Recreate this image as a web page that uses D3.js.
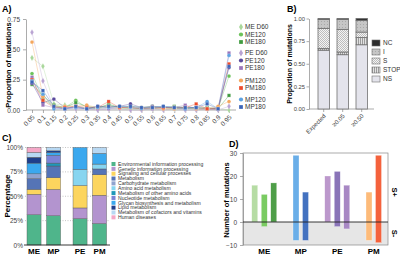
<!DOCTYPE html>
<html>
<head>
<meta charset="utf-8">
<script src="https://cdn.jsdelivr.net/npm/d3@7"></script>
<style>
  body { margin: 0; background: #fff; }
  svg { font-family: "Liberation Sans", Arial, sans-serif; }
</style>
</head>
<body>
<svg id="chart" width="400" height="259"></svg>
<script>
// ---------- data: panel A (site frequency spectrum) ----------
const freqBins = ["0.05","0.1","0.15","0.2","0.25","0.3","0.35","0.4","0.45","0.5",
                  "0.55","0.6","0.65","0.7","0.75","0.8","0.85","0.9","0.95"];
const seriesNames = ["ME D60","ME120","ME180","PE D60","PE120","PE180","PM120","PM180","MP120","MP180"];
const meD60 = [0.43,0.36,0.05,0.04,0.03,0.02,0.01,0.02,0.01,0.01,0.01,0.01,0.01,0.01,0.01,0.01,0.01,0.01,0.00];
const me120 = [0.30,0.09,0.03,0.02,0.08,0.02,0.01,0.05,0.02,0.01,0.01,0.01,0.02,0.01,0.02,0.01,0.01,0.01,0.28];
const me180 = [0.21,0.12,0.04,0.02,0.06,0.03,0.02,0.04,0.02,0.03,0.02,0.03,0.02,0.03,0.02,0.02,0.02,0.01,0.12];
const peD60 = [0.64,0.24,0.02,0.01,0.01,0.01,0.00,0.01,0.01,0.00,0.00,0.01,0.00,0.01,0.00,0.00,0.01,0.00,0.03];
const pe120 = [0.22,0.06,0.09,0.02,0.02,0.01,0.03,0.02,0.03,0.05,0.02,0.03,0.02,0.02,0.01,0.02,0.01,0.01,0.35];
const pe180 = [0.27,0.04,0.02,0.01,0.02,0.01,0.01,0.01,0.02,0.02,0.01,0.01,0.02,0.02,0.04,0.01,0.01,0.01,0.47];
const pm120 = [0.56,0.11,0.03,0.03,0.03,0.04,0.02,0.03,0.02,0.02,0.01,0.02,0.01,0.01,0.02,0.01,0.01,0.03,0.07];
const pm180 = [0.25,0.08,0.02,0.02,0.03,0.02,0.02,0.07,0.02,0.02,0.01,0.02,0.02,0.02,0.02,0.05,0.01,0.01,0.38];
const mp120 = [0.24,0.13,0.01,0.01,0.02,0.01,0.02,0.02,0.03,0.02,0.01,0.02,0.03,0.02,0.01,0.02,0.07,0.01,0.45];
const mp180 = [0.23,0.16,0.03,0.01,0.03,0.01,0.03,0.03,0.03,0.03,0.02,0.02,0.03,0.02,0.02,0.02,0.05,0.01,0.36];

// ---------- data: panel B (mutation classes) ----------
const classCats = ["Expected","≥0.05","≥0.50"];
const nsVals   = [0.65, 0.60, 0.71];
const stopVals = [0.02, 0.03, 0.08];
const sVals    = [0.22, 0.25, 0.06];
const iVals    = [0.10, 0.11, 0.13];
const ncVals   = [0.01, 0.01, 0.02];

// ---------- data: panel C (functional categories, %) ----------
const popCats = ["ME","MP","PE","PM"];
const pathways = ["Environmental information processing","Genetic information processing",
  "Signaling and cellular processes","Metabolism","Carbohydrate metabolism","Amino acid metabolism",
  "Metabolism of other amino acids","Nucleotide metabolism","Glycan biosynthesis and metabolism",
  "Lipid metabolism","Metabolism of cofactors and vitamins","Human diseases"];
const envPct   = [31, 30, 27, 22];
const genPct   = [21, 27, 11, 29];
const sigPct   = [5, 12, 23, 21];
const metPct   = [11, 12, 0, 6];
const carbPct  = [5, 0, 0, 0];
const aminoPct = [0, 0, 16.5, 5];
const otherPct = [0, 3, 0, 0];
const nuclPct  = [0, 8, 0, 0];
const glyPct   = [11, 3, 22.5, 11];
const lipPct   = [6, 1.6, 0, 0];
const cofPct   = [5, 3.4, 0, 6];
const humPct   = [5, 0, 0, 0];

// ---------- data: panel D (number of mutations, S+ / S-) ----------
const dGroups = ["ME","MP","PE","PM"];
const dSamples = [["ME D60","ME120","ME180"],["MP120","MP180"],["PE D60","PE120","PE180"],["PM120","PM180"]];
const sPlus  = [[16,12,17],[29,13],[20,22,16],[13,29]];
const sMinus = [[0,2,0],[8,8],[0,2,3],[8,9]];

// ---------- styles ----------
const seriesColor = {"ME D60":"#a9d79b","ME120":"#6cc25a","ME180":"#3f9a3f","PE D60":"#b9a3d2",
  "PE120":"#5a4a9c","PE180":"#9b74bb","PM120":"#f4a65c","PM180":"#ee4b2b","MP120":"#5da2e2","MP180":"#3b64b8"};
const seriesShape = n => n.includes("D60") ? d3.symbolDiamond : n.endsWith("120") ? d3.symbolCircle : d3.symbolSquare;
const pathColors = ["#4fb58b","#b394cf","#fcd55e","#5574b6","#8fa3cf","#87d5f0","#1f98b9","#7c83d6",
  "#3ba8ee","#1f3f8c","#b7d8f3","#f4a7c7"];
const sampleColor = {"ME D60":"#b6dca4","ME120":"#7acb62","ME180":"#4e9e48","MP120":"#6aaee8","MP180":"#4472c0",
  "PE D60":"#bc98cc","PE120":"#8a74b8","PE180":"#a888c4","PM120":"#fdbb7a","PM180":"#f4623c"};

const svg = d3.select("#chart");
const defs = svg.append("defs");

function panelLabel(t, x, y) {
  svg.append("text").attr("x", x).attr("y", y).attr("font-size", 9).attr("font-weight", "bold").text(t);
}
function styleAxis(g, fs) {
  g.selectAll("path,line").attr("stroke", "#888").attr("stroke-width", 0.7);
  g.selectAll("text").attr("fill", "#444").attr("font-size", fs || 6.5);
}

// ================= Panel A =================
panelLabel("A)", 2, 12);
const seriesData = [meD60, me120, me180, peD60, pe120, pe180, pm120, pm180, mp120, mp180];
const xA = d3.scalePoint().domain(freqBins).range([32, 229]);
const yA = d3.scaleLinear().domain([0, 0.75]).range([110, 19]);

svg.append("g").attr("transform", "translate(26,0)")
  .call(d3.axisLeft(yA).tickValues([0, 0.25, 0.5, 0.75]).tickFormat(d3.format(".2f")).tickSize(3).tickSizeOuter(0))
  .call(styleAxis);
const gxA = svg.append("g").attr("transform", "translate(0,110)")
  .call(d3.axisBottom(xA).tickSize(3).tickSizeOuter(0))
  .call(styleAxis);
gxA.select(".domain").remove();
gxA.append("line").attr("x1", 26).attr("x2", 236).attr("stroke", "#888").attr("stroke-width", 0.7);
gxA.selectAll(".tick text").attr("y", 0).attr("dy", "0.35em").attr("text-anchor", "end")
  .attr("transform", "translate(1,6) rotate(-45)");

svg.append("text").attr("transform", "translate(11,65) rotate(-90)").attr("text-anchor", "middle")
  .attr("font-size", 7.5).attr("font-weight", "bold").text("Proportion of mutations");

const lineA = d3.line().x((d, i) => xA(freqBins[i])).y(d => yA(d));
seriesNames.forEach((n, k) => {
  svg.append("path").datum(seriesData[k]).attr("d", lineA).attr("fill", "none")
    .attr("stroke", seriesColor[n]).attr("stroke-opacity", 0.45).attr("stroke-width", 0.8);
});
seriesNames.forEach((n, k) => {
  svg.append("g").selectAll("path").data(seriesData[k]).join("path")
    .attr("transform", (d, i) => `translate(${xA(freqBins[i])},${yA(d)})`)
    .attr("d", d3.symbol().type(seriesShape(n)).size(11))
    .attr("fill", seriesColor[n]).attr("stroke", "#fff").attr("stroke-width", 0.2);
});

// legend A
const legAy = [27, 34.5, 42, 53, 60.5, 68, 80.5, 88, 99.5, 107];
seriesNames.forEach((n, k) => {
  svg.append("path").attr("transform", `translate(241,${legAy[k]})`)
    .attr("d", d3.symbol().type(seriesShape(n)).size(14)).attr("fill", seriesColor[n]);
  svg.append("text").attr("x", 245).attr("y", legAy[k]).attr("dy", "0.35em")
    .attr("font-size", 6.5).attr("fill", "#333").text(n);
});

// ================= Panel B =================
panelLabel("B)", 287, 12);
// patterns
const pStop = defs.append("pattern").attr("id", "pStop").attr("width", 2).attr("height", 2).attr("patternUnits", "userSpaceOnUse");
pStop.append("rect").attr("width", 2).attr("height", 2).attr("fill", "#e2e2e2");
pStop.append("rect").attr("width", 0.8).attr("height", 2).attr("fill", "#8a8a8a");
const pS = defs.append("pattern").attr("id", "pS").attr("width", 2).attr("height", 2).attr("patternUnits", "userSpaceOnUse");
pS.append("rect").attr("width", 2).attr("height", 2).attr("fill", "#f4f4f4");
pS.append("rect").attr("width", 1).attr("height", 1).attr("fill", "#bdbdbd");
pS.append("rect").attr("x", 1).attr("y", 1).attr("width", 1).attr("height", 1).attr("fill", "#bdbdbd");
const pI = defs.append("pattern").attr("id", "pI").attr("width", 3).attr("height", 3).attr("patternUnits", "userSpaceOnUse");
pI.append("rect").attr("width", 3).attr("height", 3).attr("fill", "#c6c6c6");
pI.append("rect").attr("width", 1).attr("height", 1).attr("fill", "#a8a8a8");

const classKeys = ["NS","STOP","S","I","NC"];
const classFill = {NS: "#e4e4ec", STOP: "url(#pStop)", S: "url(#pS)", I: "url(#pI)", NC: "#2e2e2e"};
const classRows = classCats.map((c, i) => ({cat: c, NS: nsVals[i], STOP: stopVals[i], S: sVals[i], I: iVals[i], NC: ncVals[i]}));
const xB = d3.scaleBand().domain(classCats).range([313.25, 372.15]).paddingInner(0.4).paddingOuter(0.25);
const yB = d3.scaleLinear().domain([0, 1]).range([109, 18.5]);

svg.append("g").attr("transform", "translate(309,0)")
  .call(d3.axisLeft(yB).tickValues([0, 0.25, 0.5, 0.75, 1]).tickFormat(d3.format(".2f")).tickSize(2.5).tickSizeOuter(0).tickPadding(1.5))
  .call(g => styleAxis(g, 5.8));
const gxB = svg.append("g").attr("transform", "translate(0,109)")
  .call(d3.axisBottom(xB).tickSize(3).tickSizeOuter(0)).call(g => styleAxis(g, 6));
gxB.select(".domain").remove();
gxB.append("line").attr("x1", 309).attr("x2", 374).attr("stroke", "#888").attr("stroke-width", 0.7);
gxB.selectAll(".tick text").attr("y", 0).attr("dy", "0.35em").attr("text-anchor", "end")
  .attr("transform", "translate(1,6) rotate(-45)");

svg.append("text").attr("transform", "translate(292,64) rotate(-90)").attr("text-anchor", "middle")
  .attr("font-size", 7).attr("font-weight", "bold").text("Proportion of mutations");

const stackB = d3.stack().keys(classKeys)(classRows);
svg.append("g").selectAll("g").data(stackB).join("g")
  .attr("fill", d => classFill[d.key])
  .selectAll("rect").data(d => d).join("rect")
  .attr("x", d => xB(d.data.cat)).attr("width", xB.bandwidth())
  .attr("y", d => yB(d[1])).attr("height", d => yB(d[0]) - yB(d[1]))
  .attr("stroke", "#707070").attr("stroke-width", 0.8);

// legend B
classKeys.slice().reverse().forEach((k, i) => {
  const y = 43 + i * 9;
  svg.append("rect").attr("x", 372).attr("y", y - 3).attr("width", 8).attr("height", 6)
    .attr("fill", classFill[k]).attr("stroke", "#707070").attr("stroke-width", 0.6);
  svg.append("text").attr("x", 383).attr("y", y).attr("dy", "0.35em").attr("font-size", 6.5)
    .attr("fill", "#333").text(k);
});

// ================= Panel C =================
panelLabel("C)", 2, 141);
const pctArrays = [envPct, genPct, sigPct, metPct, carbPct, aminoPct, otherPct, nuclPct, glyPct, lipPct, cofPct, humPct];
const popRows = popCats.map((c, i) => {
  const r = {pop: c};
  pathways.forEach((p, k) => r[p] = pctArrays[k][i]);
  return r;
});
const pairs = [["ME","MP"],["PE","PM"]];
const xPair = d3.scaleBand().domain([0, 1]).range([24.7, 108.9]).paddingInner(0.27).paddingOuter(0.05);
const xInner = d3.scaleBand().domain([0, 1]).range([0, xPair.bandwidth()]).paddingInner(0.28).paddingOuter(0);
const xC = c => { const p = pairs.findIndex(a => a.includes(c)); return xPair(p) + xInner(pairs[p].indexOf(c)); };
const yC = d3.scaleLinear().domain([0, 100]).range([245, 147.5]);

// dotted grid
svg.append("g").selectAll("line").data([25, 50, 75, 100]).join("line")
  .attr("x1", 25).attr("x2", 110).attr("y1", d => yC(d)).attr("y2", d => yC(d))
  .attr("stroke", "#aaa").attr("stroke-width", 0.7).attr("stroke-dasharray", "1,1.5");
const gyC = svg.append("g").attr("transform", "translate(25,0)")
  .call(d3.axisLeft(yC).tickValues([0, 25, 50, 75, 100]).tickFormat(d => d + "%").tickSize(0).tickPadding(2))
  .call(styleAxis);
gyC.select(".domain").remove();
svg.append("text").attr("transform", "translate(10,196) rotate(-90)").attr("text-anchor", "middle")
  .attr("font-size", 8).attr("font-weight", "bold").text("Percentage");

const stackC = d3.stack().keys(pathways)(popRows);
svg.append("g").selectAll("g").data(stackC).join("g")
  .attr("fill", (d, i) => pathColors[i])
  .selectAll("rect").data(d => d.filter(v => v[1] > v[0])).join("rect")
  .attr("x", d => xC(d.data.pop)).attr("width", xInner.bandwidth())
  .attr("y", d => yC(d[1])).attr("height", d => yC(d[0]) - yC(d[1]))
  .attr("stroke", "#555").attr("stroke-width", 0.4);
svg.append("line").attr("x1", 24).attr("x2", 110).attr("y1", yC(0)).attr("y2", yC(0))
  .attr("stroke", "#222").attr("stroke-width", 0.9);
svg.append("g").selectAll("text").data(popCats).join("text")
  .attr("x", d => xC(d) + xInner.bandwidth() / 2).attr("y", 254).attr("text-anchor", "middle")
  .attr("font-size", 8).attr("font-weight", "bold").text(d => d);

// legend C
pathways.forEach((p, i) => {
  const y = 164 + i * 4.85;
  svg.append("rect").attr("x", 111.5).attr("y", y - 2).attr("width", 4).attr("height", 4).attr("fill", pathColors[i]);
  svg.append("text").attr("x", 118).attr("y", y).attr("dy", "0.35em").attr("font-size", 5.1)
    .attr("fill", "#333").text(p);
});

// ================= Panel D =================
panelLabel("D)", 229, 147);
const xD = d3.scaleBand().domain(dGroups).range([246, 392]).padding(0);
const yD = d3.scaleLinear().domain([-10, 30]).range([245, 153]);
const frameL = 243, frameR = 388;

svg.append("rect").attr("x", frameL).attr("y", yD(0)).attr("width", frameR - frameL).attr("height", yD(-10) - yD(0))
  .attr("fill", "#e6e6e6");
svg.append("rect").attr("x", frameL).attr("y", yD(30)).attr("width", frameR - frameL).attr("height", yD(-10) - yD(30))
  .attr("fill", "none").attr("stroke", "#888").attr("stroke-width", 0.7);
svg.append("g").attr("transform", `translate(${frameL},0)`)
  .call(d3.axisLeft(yD).tickValues([-10, 0, 10, 20, 30]).tickSize(3).tickSizeOuter(0))
  .call(styleAxis);
svg.append("text").attr("transform", "translate(229,200) rotate(-90)").attr("text-anchor", "middle")
  .attr("font-size", 7.5).attr("font-weight", "bold").text("Number of mutations");

dGroups.forEach((g, gi) => {
  const n = dSamples[gi].length;
  const c = xD(g) + xD.bandwidth() / 2;
  const inner = d3.scaleBand().domain(d3.range(n)).range([c - n * 9.5 / 2, c + n * 9.5 / 2])
    .paddingInner(0.37).paddingOuter(0.185);
  svg.append("g").selectAll("rect").data(dSamples[gi]).join("rect")
    .attr("x", (d, i) => inner(i)).attr("width", inner.bandwidth())
    .attr("y", (d, i) => yD(sPlus[gi][i])).attr("height", (d, i) => yD(-sMinus[gi][i]) - yD(sPlus[gi][i]))
    .attr("fill", d => sampleColor[d]).attr("stroke", "#fff").attr("stroke-opacity", 0.6).attr("stroke-width", 0.5);
  svg.append("text").attr("x", c).attr("y", 254).attr("text-anchor", "middle")
    .attr("font-size", 8).attr("font-weight", "bold").text(g);
});
svg.append("line").attr("x1", frameL).attr("x2", frameR).attr("y1", yD(0)).attr("y2", yD(0))
  .attr("stroke", "#222").attr("stroke-width", 0.9);
svg.append("text").attr("transform", `translate(392,${yD(13)}) rotate(90)`).attr("text-anchor", "middle")
  .attr("font-size", 7.5).attr("font-weight", "bold").text("S+");
svg.append("text").attr("transform", `translate(392,${yD(-5)}) rotate(90)`).attr("text-anchor", "middle")
  .attr("font-size", 7.5).attr("font-weight", "bold").text("S-");
</script>
</body>
</html>
